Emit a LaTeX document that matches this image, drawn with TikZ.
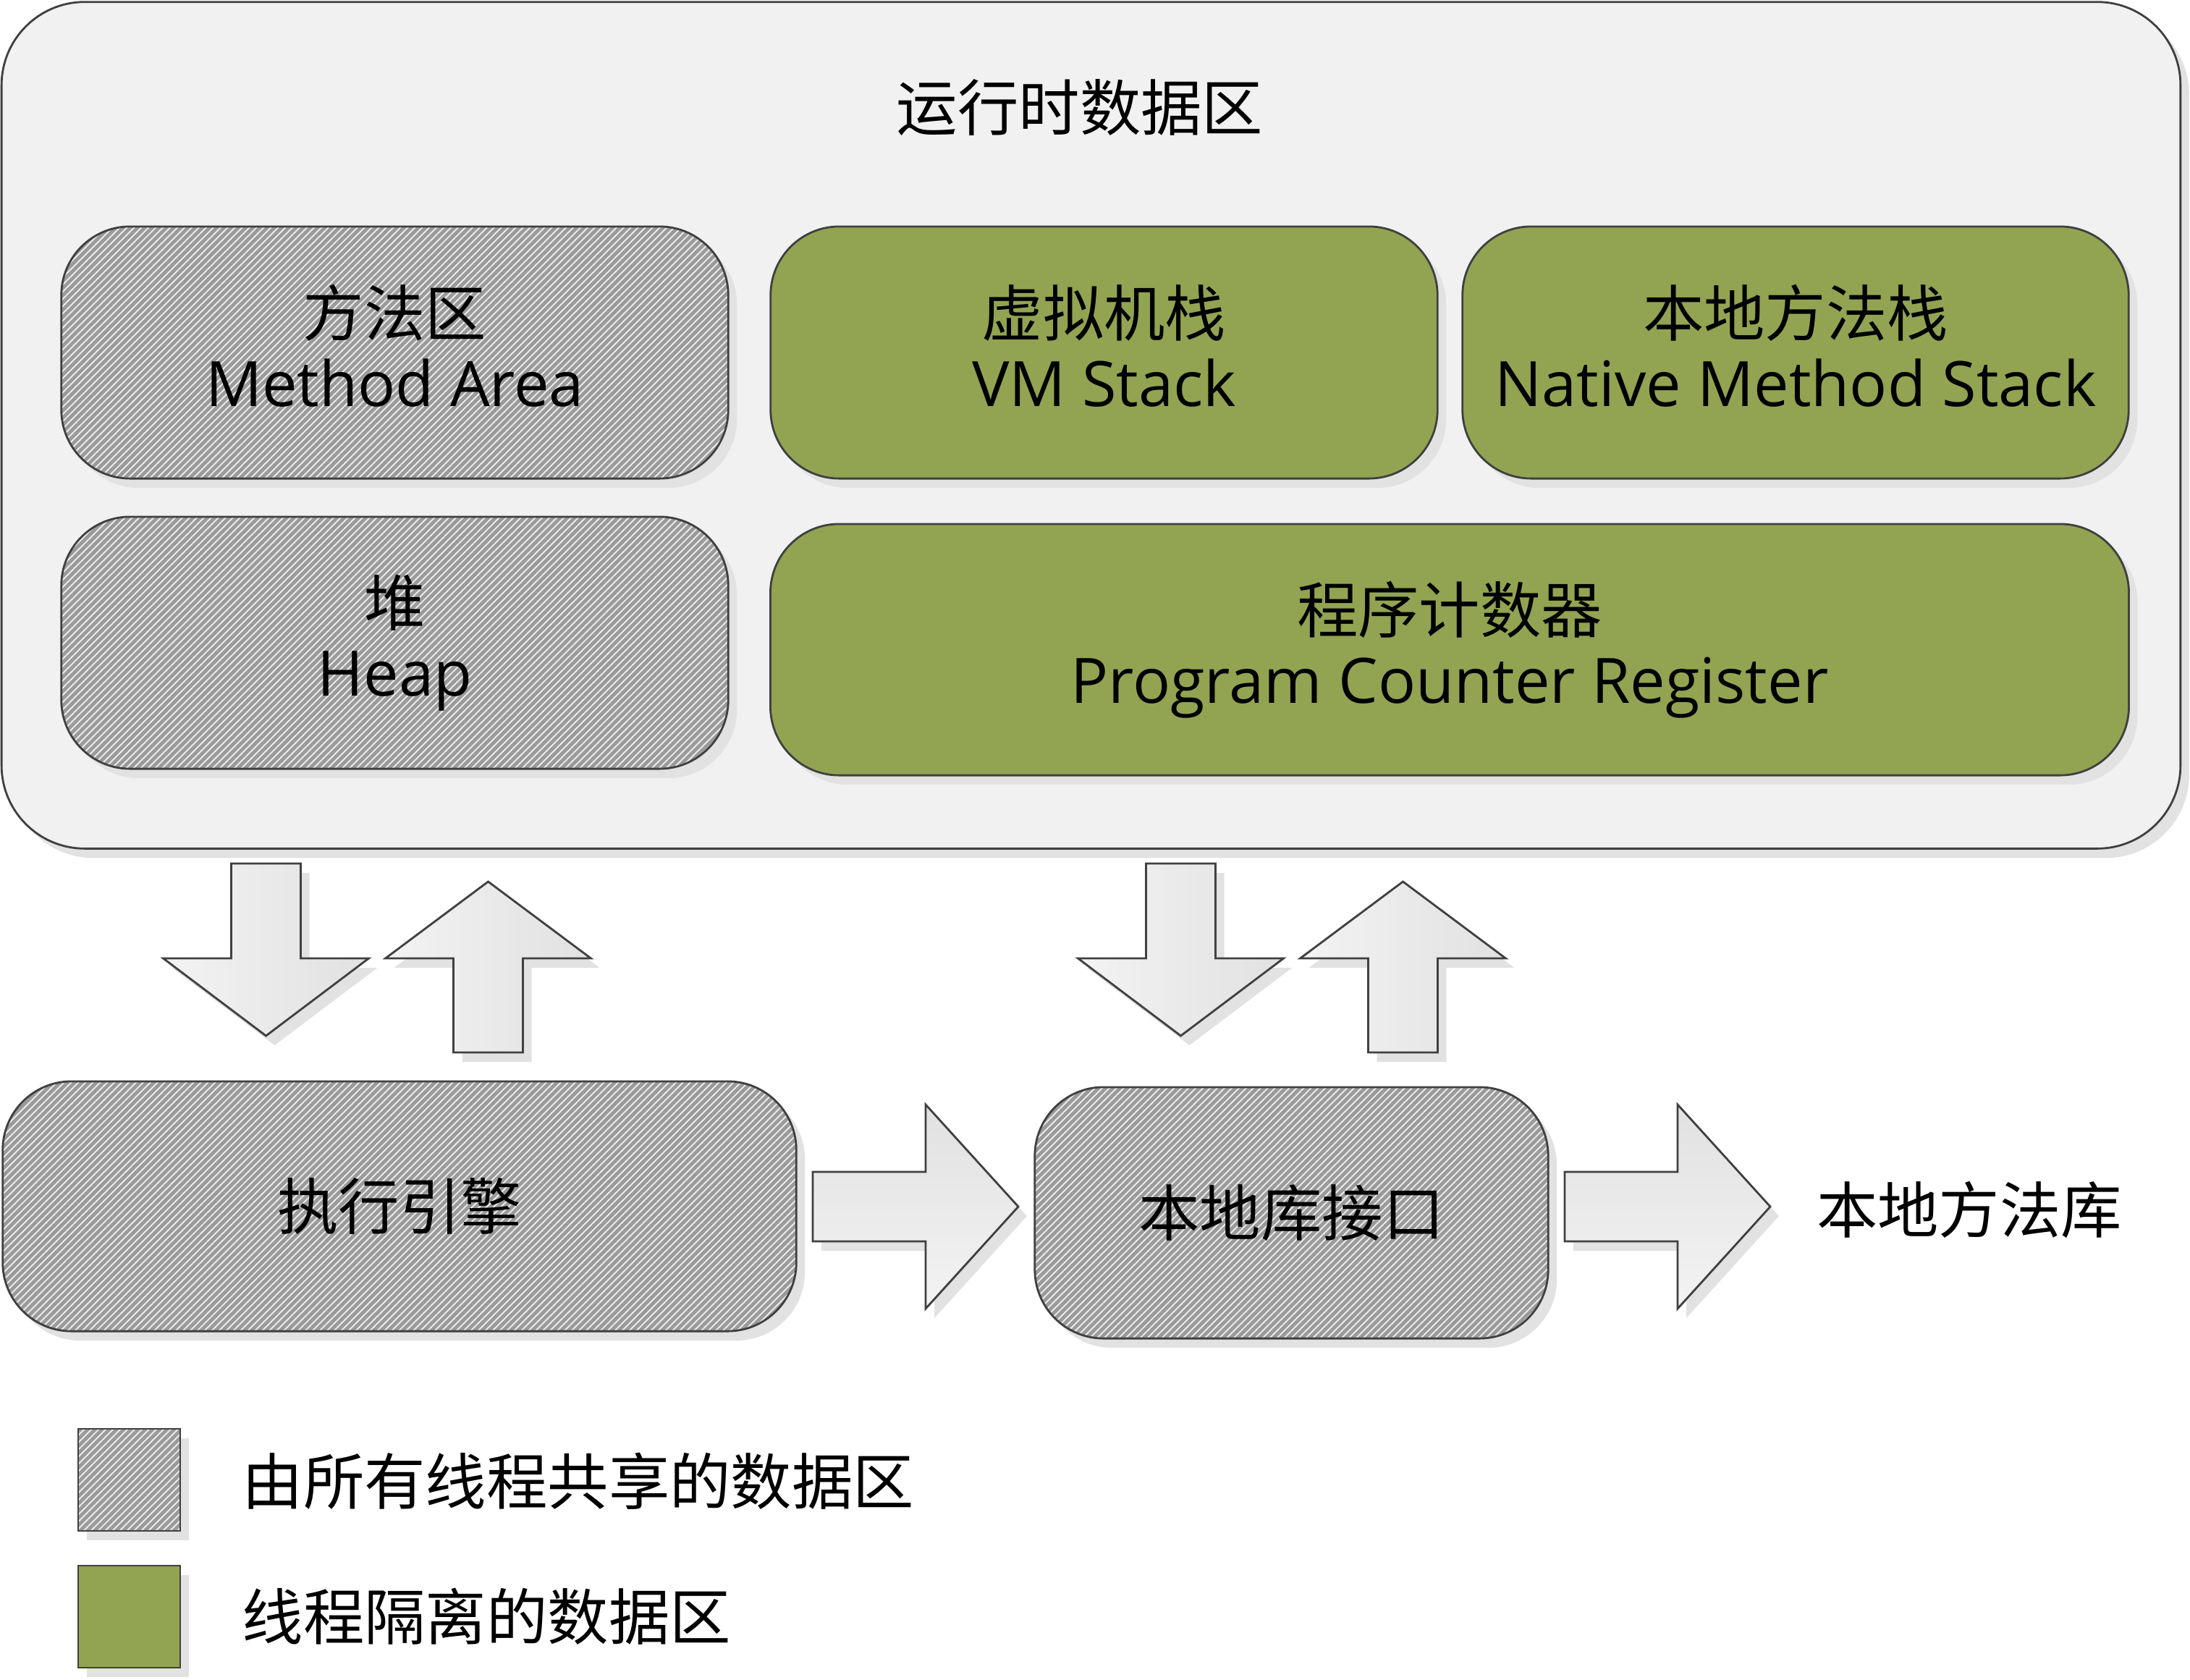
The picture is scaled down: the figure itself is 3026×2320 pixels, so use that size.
\documentclass[tikz,border=0pt]{standalone}
\usepackage{fontspec}
\setmainfont{Open Sans}
\newfontfamily\cjk{Noto Sans CJK SC}
\usetikzlibrary{shadows,patterns.meta}
\definecolor{panelbg}{HTML}{F1F1F1}
\definecolor{edgegrey}{HTML}{404040}
\definecolor{hatchgrey}{HTML}{9A9A9A}
\definecolor{olivegreen}{HTML}{92A452}
\definecolor{shadowgrey}{HTML}{E2E2E2}
\definecolor{arrowlight}{HTML}{F3F3F3}
\definecolor{arrowdark}{HTML}{E1E1E1}
\newcommand{\latinpart}[1]{{\fontsize{24.6}{27.6}\selectfont #1}}
\tikzset{
  myshadow/.style={drop shadow={shadow xshift=0.12cm, shadow yshift=-0.13cm, fill=shadowgrey, opacity=1}},
  labelfont/.style={font=\fontsize{24}{27.6}\selectfont},
  basebox/.style={rectangle, rounded corners=0.95cm, draw=edgegrey, line width=0.8pt,
    align=center, inner sep=0pt, labelfont, myshadow},
  sharedbox/.style={basebox, preaction={fill=hatchgrey},
    pattern={Lines[angle=45,distance=2pt,line width=0.55pt]}, pattern color=white!80!hatchgrey},
  threadbox/.style={basebox, fill=olivegreen},
  raisetext/.style={text depth=5.5pt},
  varrow/.style={draw=edgegrey, line width=0.8pt, line join=miter, myshadow,
    left color=arrowlight, right color=arrowdark},
  harrow/.style={draw=edgegrey, line width=0.8pt, line join=miter, myshadow,
    top color=arrowdark, bottom color=arrowlight},
  pics/dnarrow/.style={code={\draw[varrow] (-48,0) -- (48,0) -- (48,131) -- (142,131) -- (0,238) -- (-142,131) -- (-48,131) -- cycle;}},
  pics/uparrow/.style={code={\draw[varrow] (0,0) -- (142,106) -- (48,106) -- (48,236) -- (-48,236) -- (-48,106) -- (-142,106) -- cycle;}},
  pics/rtarrow/.style={code={\draw[harrow] (0,-48) -- (156,-48) -- (156,-141) -- (284,0) -- (156,141) -- (156,48) -- (0,48) -- cycle;}},
}
\begin{document}
\begin{tikzpicture}[x=0.01cm,y=-0.01cm]
\useasboundingbox (0,0) rectangle (3026,2320);
% runtime data area panel
\node[rectangle, rounded corners=1.15cm, draw=edgegrey, line width=0.8pt, fill=panelbg, myshadow,
  minimum width=30.09cm, minimum height=11.69cm, inner sep=0pt] (panel) at (1507.5,587.5) {};
\node[labelfont, inner sep=0pt] (title) at (1492,149) {\cjk 运行时数据区};
% boxes
\node[sharedbox, raisetext, minimum width=9.21cm, minimum height=3.48cm] (method) at (545.5,487) {{\cjk 方法区}\\\latinpart{Method Area}};
\node[threadbox, raisetext, minimum width=9.21cm, minimum height=3.48cm] (vmstack) at (1525.5,487) {{\cjk 虚拟机栈}\\\latinpart{VM Stack}};
\node[threadbox, raisetext, minimum width=9.20cm, minimum height=3.48cm] (native) at (2481,487) {{\cjk 本地方法栈}\\\latinpart{Native Method Stack}};
\node[sharedbox, minimum width=9.21cm, minimum height=3.48cm] (heap) at (545.5,888) {{\cjk 堆}\\\latinpart{Heap}};
\node[threadbox, minimum width=18.76cm, minimum height=3.47cm] (pc) at (2003,897.5) {{\cjk 程序计数器}\\\latinpart{Program Counter Register}};
% vertical arrows
\pic (d1) at (367.5,1193) {dnarrow};
\pic (u1) at (674.5,1218) {uparrow};
\pic (d2) at (1631.5,1193) {dnarrow};
\pic (u2) at (1938.5,1218) {uparrow};
% bottom row
\node[sharedbox, minimum width=10.96cm, minimum height=3.45cm] (engine) at (552,1666.5) {\cjk 执行引擎};
\node[sharedbox, minimum width=7.09cm, minimum height=3.47cm] (nif) at (1784.5,1675.5) {\cjk 本地库接口};
\pic (r1) at (1123,1667) {rtarrow};
\pic (r2) at (2162,1667) {rtarrow};
\node[labelfont, inner sep=0pt] (nlib) at (2721,1671) {\cjk 本地方法库};
% legend
\node[rectangle, draw=edgegrey, line width=0.8pt, myshadow, preaction={fill=hatchgrey},
  pattern={Lines[angle=45,distance=2pt,line width=0.55pt]}, pattern color=white!80!hatchgrey,
  minimum width=1.41cm, minimum height=1.41cm, inner sep=0pt] (legshared) at (178.5,2044.5) {};
\node[rectangle, draw=edgegrey, line width=0.8pt, myshadow, fill=olivegreen,
  minimum width=1.41cm, minimum height=1.41cm, inner sep=0pt] (legthread) at (178.5,2233.5) {};
\node[labelfont, inner sep=0pt, anchor=west] (legsharedtxt) at (334,2046) {\cjk 由所有线程共享的数据区};
\node[labelfont, inner sep=0pt, anchor=west] (legthreadtxt) at (334,2233) {\cjk 线程隔离的数据区};
\end{tikzpicture}
\end{document}
